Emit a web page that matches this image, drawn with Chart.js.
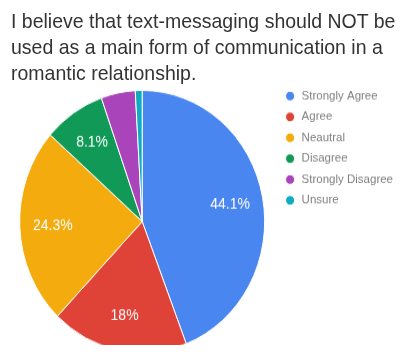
<!DOCTYPE html>
<html>
<head>
    <meta charset="UTF-8">
    <title>Text-messaging survey</title>
    <script src="https://cdn.jsdelivr.net/npm/chart.js"></script>
    <style>
        html, body { margin: 0; padding: 0; background: #fff; overflow: hidden; }
        /* the reference picture is a little stretched vertically */
        #page { position: relative; width: 403px; height: 345px; transform: scaleY(1.07); transform-origin: 0 0; }
        #title {
            position: absolute; left: 11px; top: 7px;
            font: 19.5px "Liberation Sans", Arial, sans-serif; line-height: 24.3px;
            color: #333; white-space: nowrap;
        }
        #pie { position: absolute; left: 0; top: 0; }
    </style>
</head>
<body>
<div id="page">
    <canvas id="pie" width="403" height="345"></canvas>
    <div id="title">I believe that text-messaging should NOT be<br>used as a main form of communication in a<br>romantic relationship.</div>
</div>
<script>
    // ответы (проценты, как на картинке)
    const answers = ['Strongly Agree', 'Agree', 'Neautral', 'Disagree', 'Strongly Disagree', 'Unsure'];
    const shares = [44.1, 18, 24.3, 8.1, 4.5, 0.9];
    const colors = ['#4a86f0', '#df4237', '#f4ab0d', '#119a57', '#aa44bb', '#0fabc3'];

    const fontFamily = '"Liberation Sans", Arial, sans-serif';

    // подписи процентов внутри секторов (маленькие секторы без подписи)
    const pctLabels = {
        id: 'pctLabels',
        afterDatasetsDraw(chart) {
            const ctx = chart.ctx;
            const meta = chart.getDatasetMeta(0);
            const total = shares.reduce((a, b) => a + b, 0);
            ctx.save();
            ctx.font = '14px ' + fontFamily;
            ctx.fillStyle = '#fff';
            ctx.textAlign = 'center';
            ctx.textBaseline = 'middle';
            meta.data.forEach((arc, i) => {
                const pct = shares[i] / total * 100;
                if (pct < 5) return;
                const p = arc.getProps(['x', 'y', 'startAngle', 'endAngle', 'outerRadius'], true);
                const mid = (p.startAngle + p.endAngle) / 2;
                const r = p.outerRadius * 0.73;
                ctx.fillText((Math.round(pct * 10) / 10) + '%', p.x + Math.cos(mid) * r, p.y + Math.sin(mid) * r);
            });
            ctx.restore();
        }
    };

    new Chart(document.getElementById('pie').getContext('2d'), {
        type: 'pie',
        data: {
            labels: answers,
            datasets: [{
                data: shares,
                backgroundColor: colors,
                borderColor: '#fff',
                borderWidth: 1
            }]
        },
        options: {
            responsive: false,
            animation: false,
            events: [],
            radius: 122.5,
            layout: { padding: { top: 76, left: 8, right: 0, bottom: 7 } },
            plugins: {
                tooltip: { enabled: false },
                legend: {
                    position: 'right',
                    align: 'start',
                    labels: {
                        usePointStyle: true,
                        pointStyle: 'circle',
                        boxWidth: 18,
                        boxHeight: 6.4,
                        padding: 8,
                        color: '#808080',
                        font: { size: 11.5, family: fontFamily }
                    }
                }
            }
        },
        plugins: [pctLabels]
    });
</script>
</body>
</html>
